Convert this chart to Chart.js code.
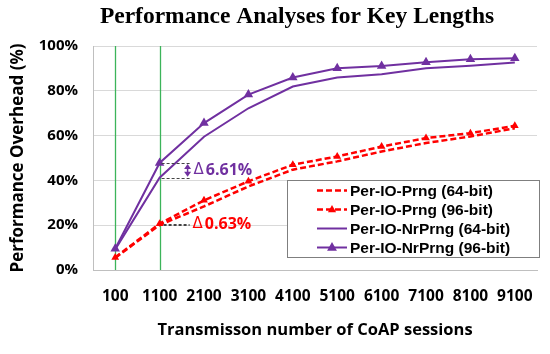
<!DOCTYPE html>
<html><head><meta charset="utf-8">
<script src="https://cdn.jsdelivr.net/npm/chart.js@4"></script>
<style>html,body{margin:0;padding:0;background:#fff}</style>
</head><body>
<canvas id="c" width="550" height="354"></canvas>
<script>
const categories = ['100','1100','2100','3100','4100','5100','6100','7100','8100','9100'];
const prng64   = [5.4, 20.1, 28.4, 37.3, 44.8, 48.5, 52.9, 56.7, 59.6, 63.3];
const prng96   = [5.6, 20.7, 31.1, 39.6, 47.0, 50.7, 55.1, 58.9, 61.1, 64.4];
const nrprng64 = [9.2, 41.2, 59.5, 72.2, 81.9, 85.9, 87.4, 90.1, 91.2, 92.6];
const nrprng96 = [9.5, 47.8, 65.6, 78.3, 85.9, 90.1, 91.1, 92.7, 94.1, 94.5];
const seriesNames = ['Per-IO-Prng (64-bit)','Per-IO-Prng (96-bit)','Per-IO-NrPrng (64-bit)','Per-IO-NrPrng (96-bit)'];
const yTicks = [0,20,40,60,80,100];
const chartTitle = 'Performance Analyses for Key Lengths';
const xTitle = 'Transmisson number of CoAP sessions';
const yTitle = 'Performance Overhead (%)';
const deltaSign = 'Δ';
const delta1 = '6.61%';
const delta2 = '0.63%';

const RED = '#ff0000', PURPLE = '#7030a0';
const sansBold = {family:"'Open Sans', sans-serif", weight:'bold'};

const extras = {
  id:'extras',
  beforeDatasetsDraw(chart){
    const {ctx, chartArea:a, scales:{x}} = chart;
    ctx.save();
    ctx.strokeStyle = '#3cb45a'; ctx.lineWidth = 1.3;
    [0,1].forEach(i=>{
      const px = Math.round(x.getPixelForValue(i))+0.5;
      ctx.beginPath(); ctx.moveTo(px, a.top); ctx.lineTo(px, a.bottom); ctx.stroke();
    });
    ctx.restore();
  },
  afterDatasetsDraw(chart){
    const {ctx, scales:{x,y}} = chart;
    const px = x.getPixelForValue(1);
    ctx.save();
    ctx.strokeStyle = '#444'; ctx.lineWidth = 1; ctx.setLineDash([3,2]);
    const yA = y.getPixelForValue(nrprng96[1]), yB = y.getPixelForValue(nrprng64[1]);
    const yC = y.getPixelForValue(prng96[1]), yD = y.getPixelForValue(prng64[1]);
    [[yA,px+2,px+32],[yB,px+2,px+32]].forEach(([yy,x1,x2])=>{
      ctx.beginPath(); ctx.moveTo(x1,Math.round(yy)+0.5); ctx.lineTo(x2,Math.round(yy)+0.5); ctx.stroke();
    });
    [[yC,px+4,px+30],[yD,px+4,px+30]].forEach(([yy,x1,x2])=>{
      ctx.beginPath(); ctx.moveTo(x1,Math.round(yy)+0.5); ctx.lineTo(x2,Math.round(yy)+0.5); ctx.stroke();
    });
    ctx.setLineDash([]);
    const ax = px + 28;
    ctx.strokeStyle = PURPLE; ctx.fillStyle = PURPLE; ctx.lineWidth = 1.5;
    ctx.beginPath(); ctx.moveTo(ax, yA+4); ctx.lineTo(ax, yB-4); ctx.stroke();
    ctx.beginPath(); ctx.moveTo(ax, yA+1); ctx.lineTo(ax-3.5, yA+6); ctx.lineTo(ax+3.5, yA+6); ctx.closePath(); ctx.fill();
    ctx.beginPath(); ctx.moveTo(ax, yB-1); ctx.lineTo(ax-3.5, yB-6); ctx.lineTo(ax+3.5, yB-6); ctx.closePath(); ctx.fill();
    ctx.textBaseline = 'middle'; ctx.textAlign = 'left';
    const drawDelta = (txt, x0, yy, col) => {
      ctx.fillStyle = col;
      ctx.font = "15px 'DejaVu Sans', sans-serif";
      ctx.fillText(deltaSign, x0, yy);
      const w = ctx.measureText(deltaSign).width;
      ctx.font = "bold 16px 'Open Sans', sans-serif";
      ctx.fillText(txt, x0 + w + 2, yy);
    };
    drawDelta(delta1, px+34, (yA+yB)/2, PURPLE);
    drawDelta(delta2, px+33, (yC+yD)/2, RED);
    ctx.restore();
  },
  afterDraw(chart){
    const {ctx} = chart;
    ctx.save();
    ctx.font = "bold 23.5px 'Liberation Serif', serif";
    ctx.fillStyle = '#000'; ctx.textAlign = 'center'; ctx.textBaseline = 'middle';
    ctx.fillText(chartTitle, 297, 17);
    const bx = 287, by = 180, bw = 252, bh = 77;
    ctx.fillStyle = '#fff'; ctx.fillRect(bx, by, bw, bh);
    ctx.strokeStyle = '#7f7f7f'; ctx.lineWidth = 1;
    ctx.strokeRect(bx+0.5, by+0.5, bw, bh);
    const rows = [190.5, 209.5, 228.5, 247.5];
    chart.data.datasets.forEach((ds, i)=>{
      const yy = rows[i];
      ctx.strokeStyle = ds.borderColor; ctx.lineWidth = ds.borderWidth;
      ctx.setLineDash(ds.borderDash || []);
      ctx.beginPath(); ctx.moveTo(317, yy); ctx.lineTo(347, yy); ctx.stroke();
      ctx.setLineDash([]);
      if (ds.pointRadius > 0) {
        ctx.fillStyle = ds.pointBackgroundColor;
        const r = ds.pointRadius;
        ctx.beginPath(); ctx.moveTo(332, yy - r); ctx.lineTo(332 + r*0.9, yy + r*0.6); ctx.lineTo(332 - r*0.9, yy + r*0.6); ctx.closePath(); ctx.fill();
      }
      ctx.fillStyle = '#000'; ctx.font = "bold 15.5px 'Liberation Sans', Arial, sans-serif";
      ctx.textAlign = 'left'; ctx.textBaseline = 'middle';
      ctx.fillText(ds.label, 350, yy+1);
    });
    ctx.restore();
  }
};

new Chart(document.getElementById('c'), {
  type:'line',
  data:{
    labels: categories,
    datasets:[
      {label:seriesNames[0], data:prng64, borderColor:RED, backgroundColor:RED, borderWidth:2.5, borderDash:[6,3], pointRadius:0, pointBackgroundColor:RED, tension:0},
      {label:seriesNames[1], data:prng96, borderColor:RED, backgroundColor:RED, borderWidth:2.5, borderDash:[6,3], pointRadius:4.5, pointStyle:'triangle', pointBackgroundColor:RED, pointBorderColor:RED, pointBorderWidth:0, tension:0},
      {label:seriesNames[2], data:nrprng64, borderColor:PURPLE, backgroundColor:PURPLE, borderWidth:2, pointRadius:0, pointBackgroundColor:PURPLE, tension:0},
      {label:seriesNames[3], data:nrprng96, borderColor:PURPLE, backgroundColor:PURPLE, borderWidth:2, pointRadius:5.5, pointStyle:'triangle', pointBackgroundColor:PURPLE, pointBorderColor:PURPLE, pointBorderWidth:0, tension:0}
    ]
  },
  options:{
    responsive:false, animation:false, devicePixelRatio:1,
    layout:{padding:{left:0,right:9,top:46,bottom:0}},
    plugins:{legend:{display:false}, tooltip:{enabled:false}, title:{display:false}},
    scales:{
      x:{
        type:'category', offset:true,
        grid:{display:false, drawTicks:false},
        border:{display:true, color:'#bfbfbf', width:1},
        ticks:{color:'#000', padding:17, maxRotation:0, autoSkip:false, font:{...sansBold, size:15.5}},
        title:{display:true, text:xTitle, color:'#000', font:{...sansBold, size:16.5}, padding:{top:0,bottom:14}},
        afterFit(s){ s.height = 84; }
      },
      y:{
        min:0, max:100,
        afterBuildTicks(s){ s.ticks = yTicks.map(v=>({value:v})); },
        grid:{color:'#d9d9d9', drawTicks:false, lineWidth:1},
        border:{display:true, color:'#bfbfbf', width:1},
        ticks:{color:'#000', padding:15, callback:v=>v+'%', font:{...sansBold, size:15}},
        title:{display:true, text:yTitle, color:'#000', font:{...sansBold, size:17}, padding:{top:8,bottom:0}},
        afterFit(s){ s.width = 93; }
      }
    }
  },
  plugins:[extras]
});
</script>
</body></html>
